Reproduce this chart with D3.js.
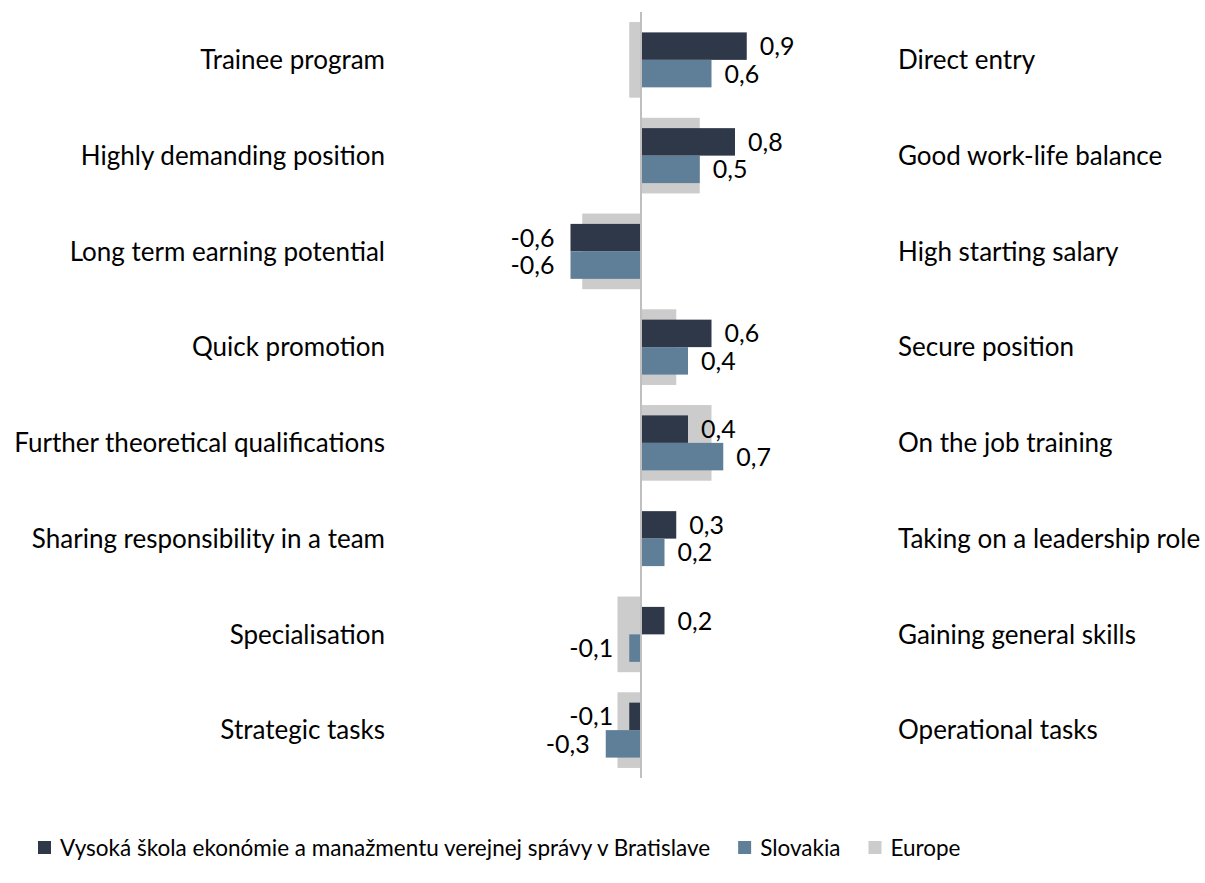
<!DOCTYPE html>
<html>
<head>
<meta charset="utf-8">
<script src="https://cdn.jsdelivr.net/npm/d3@7"></script>
<style>
  html, body { margin: 0; padding: 0; background: #ffffff; }
  svg { display: block; }
  text { font-family: Lato, "Open Sans", sans-serif; fill: #000; }
</style>
</head>
<body>
<svg id="chart" width="1205" height="883"></svg>
<script>
// ---- data ----
const leftLabels = ["Trainee program", "Highly demanding position", "Long term earning potential", "Quick promotion",
  "Further theoretical qualifications", "Sharing responsibility in a team", "Specialisation", "Strategic tasks"];
const rightLabels = ["Direct entry", "Good work-life balance", "High starting salary", "Secure position",
  "On the job training", "Taking on a leadership role", "Gaining general skills", "Operational tasks"];
const seriesNames = ["Vysoká škola ekonómie a manažmentu verejnej správy v Bratislave", "Slovakia", "Europe"];
const schoolValues = [0.9, 0.8, -0.6, 0.6, 0.4, 0.3, 0.2, -0.1];
const slovakiaValues = [0.6, 0.5, -0.6, 0.4, 0.7, 0.2, -0.1, -0.3];
const europeValues = [-0.1, 0.5, -0.5, 0.3, 0.6, 0.0, -0.2, -0.2];
const colors = ["#2f3849", "#5f7f99", "#cccccc"];

const svg = d3.select("#chart");
const labelSize = 26;
const valueSize = 25;
const legendSize = 22.5;

const x = d3.scaleLinear().domain([-1, 1]).range([641 - 117.5, 641 + 117.5]);
const idx = d3.range(leftLabels.length);
const y = d3.scaleBand().domain(idx).range([12, 778]);
const step = y.step();
const centerY = i => y(i) + step / 2;
const sub = d3.scaleBand().domain([0, 1]).range([-0.287 * step, 0.287 * step]);
const euH = 0.79 * step;

const fmt = v => d3.format(".1f")(v).replace(".", ",").replace("−", "-");

// Europe bars (behind)
svg.append("g").selectAll("rect").data(idx).join("rect")
  .attr("x", i => Math.min(x(0), x(europeValues[i])))
  .attr("width", i => Math.abs(x(europeValues[i]) - x(0)))
  .attr("y", i => centerY(i) - euH / 2)
  .attr("height", euH)
  .attr("fill", colors[2]);

// school & slovakia bars
const front = [schoolValues, slovakiaValues];
front.forEach((vals, s) => {
  const g = svg.append("g");
  g.selectAll("rect").data(idx).join("rect")
    .attr("x", i => Math.min(x(0), x(vals[i])))
    .attr("width", i => Math.abs(x(vals[i]) - x(0)))
    .attr("y", i => centerY(i) + sub(s))
    .attr("height", sub.bandwidth())
    .attr("fill", colors[s]);
  g.selectAll("text").data(idx).join("text")
    .attr("x", i => vals[i] >= 0 ? x(vals[i]) + 13 : x(vals[i]) - 16)
    .attr("y", i => centerY(i) + sub(s) + sub.bandwidth() / 2)
    .attr("dy", "0.36em")
    .attr("text-anchor", i => vals[i] >= 0 ? "start" : "end")
    .style("font-size", valueSize + "px")
    .text(i => fmt(vals[i]));
});

// axis line
svg.append("line")
  .attr("x1", x(0)).attr("x2", x(0))
  .attr("y1", 12).attr("y2", 778)
  .attr("stroke", "#bfbfbf").attr("stroke-width", 2);

// category labels
svg.append("g").selectAll("text").data(idx).join("text")
  .attr("x", 385).attr("y", i => centerY(i)).attr("dy", "0.36em")
  .attr("text-anchor", "end").style("font-size", labelSize + "px")
  .text(i => leftLabels[i]);
svg.append("g").selectAll("text").data(idx).join("text")
  .attr("x", 898).attr("y", i => centerY(i)).attr("dy", "0.36em")
  .attr("text-anchor", "start").style("font-size", labelSize + "px")
  .text(i => rightLabels[i]);

// legend
const legend = svg.append("g");
let lx = 38;
seriesNames.forEach((name, s) => {
  legend.append("rect").attr("x", lx).attr("y", 841).attr("width", 13).attr("height", 13).attr("fill", colors[s]);
  const t = legend.append("text").attr("x", lx + 22).attr("y", 847.5).attr("dy", "0.36em")
    .style("font-size", legendSize + "px").text(name);
  lx += 22 + t.node().getComputedTextLength() + 28;
});
</script>
</body>
</html>
